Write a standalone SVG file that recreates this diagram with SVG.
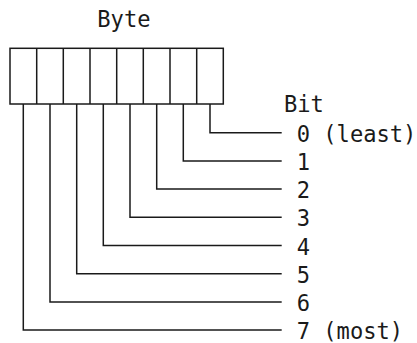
<svg xmlns="http://www.w3.org/2000/svg" width="417" height="343" viewBox="0 0 417 343">
  <style>
    .t { font-family: "DejaVu Sans Mono", "Liberation Mono", monospace; font-size: 22.1px; fill: #1a1a1a; }
    .ln { fill: none; stroke: #1a1a1a; stroke-width: 1.5; }
  </style>
  <rect width="417" height="343" fill="#ffffff"/>

  <!-- heading -->
  <g id="byte-title">
    <text class="t" x="97.3" y="27.3">Byte</text>
  </g>

  <!-- eight-cell byte box -->
  <g id="byte">
    <rect class="ln" x="10" y="48.3" width="213.3" height="55.7"/>
    <path class="ln" d="M36.7 48.3V104 M63.3 48.3V104 M90 48.3V104 M116.7 48.3V104 M143.3 48.3V104 M170 48.3V104 M196.7 48.3V104"/>
  </g>

  <!-- bit labels -->
  <g id="bit-title"><text class="t" x="284" y="112.3">Bit</text></g>
  <g id="bit0"><text class="t" x="296.7" y="141.7">0 (least)</text></g>
  <g id="bit1"><text class="t" x="296.7" y="169.9">1</text></g>
  <g id="bit2"><text class="t" x="296.7" y="198.1">2</text></g>
  <g id="bit3"><text class="t" x="296.7" y="226.3">3</text></g>
  <g id="bit4"><text class="t" x="296.7" y="254.5">4</text></g>
  <g id="bit5"><text class="t" x="296.7" y="282.7">5</text></g>
  <g id="bit6"><text class="t" x="296.7" y="310.9">6</text></g>
  <g id="bit7"><text class="t" x="296.7" y="339.1">7 (most)</text></g>

  <!-- leader lines from each cell to its bit number -->
  <g id="connectors">
    <path class="ln" d="M210 104V132.7H281.7"/>
    <path class="ln" d="M183.3 104V160.9H281.7"/>
    <path class="ln" d="M156.7 104V189.1H281.7"/>
    <path class="ln" d="M130 104V217.3H281.7"/>
    <path class="ln" d="M103.3 104V245.5H281.7"/>
    <path class="ln" d="M76.7 104V273.7H281.7"/>
    <path class="ln" d="M50 104V301.9H281.7"/>
    <path class="ln" d="M23.3 104V330.1H281.7"/>
  </g>
</svg>
